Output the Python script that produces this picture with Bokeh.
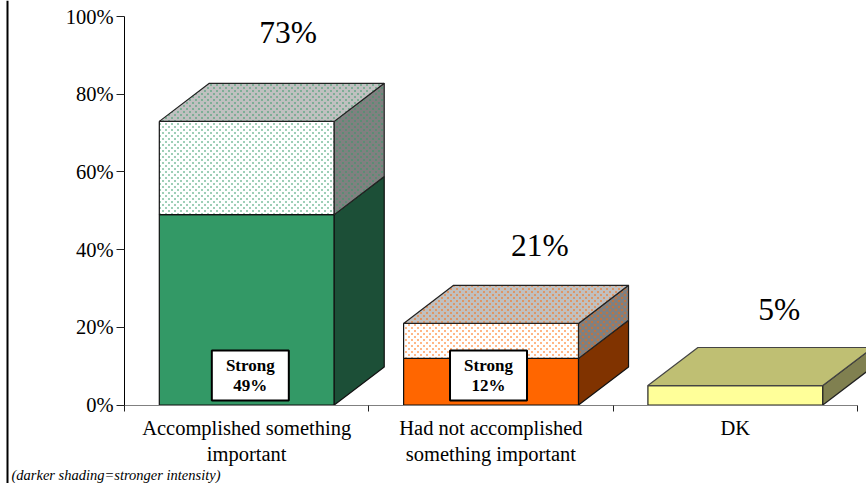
import base64, struct, zlib
from bokeh.embed import file_html
from bokeh.resources import INLINE
from bokeh.plotting import figure
from bokeh.models import FixedTicker, Range1d, Span, ImageURLTexture
from bokeh.core.properties import value

categories = ["Accomplished something\nimportant", "Had not accomplished\nsomething important", "DK"]
strong = [49, 12, 0]
total = [73, 21, 5]
total_labels = ["73%", "21%", "5%"]
strong_labels = ["Strong\n49%", "Strong\n12%", ""]
y_ticks = [0, 20, 40, 60, 80, 100]
footnote = "(darker shading=stronger intensity)"

front_solid = ["#339966", "#FF6600", "#FFFF99"]
side_solid = ["#1C4F37", "#803300", "#808050"]
dots = [(51, 153, 102), (255, 102, 0), (255, 255, 153)]

UNIT = 244.3     # px per category
PCT = 3.885      # px per percentage point
X0, Y0 = 124, 404.5
BAR_L, BAR_W = 0.1425, 0.716
DX, DY = 50 / UNIT, 9.8
FONT = "Liberation Serif"
x_of = lambda px: (px - X0) / UNIT
y_of = lambda py: (Y0 - py) / PCT


def tile_url(rgb, size=6):
    rows = b""
    for yy in range(size):
        rows += b"\x00"
        for xx in range(size):
            on = (xx in (0, 1) and yy in (0, 1)) or (xx in (3, 4) and yy in (3, 4))
            rows += bytes(rgb) + (b"\x78" if on else b"\x00")
    def chunk(tag, data):
        return struct.pack(">I", len(data)) + tag + data + struct.pack(">I", zlib.crc32(tag + data))
    png = b"\x89PNG\r\n\x1a\n" + chunk(b"IHDR", struct.pack(">IIBBBBB", size, size, 8, 6, 0, 0, 0)) \
        + chunk(b"IDAT", zlib.compress(rows)) + chunk(b"IEND", b"")
    return "data:image/png;base64," + base64.b64encode(png).decode()


p = figure(width=866, height=483, output_backend="svg", toolbar_location=None,
           x_range=Range1d(x_of(0), x_of(866)), y_range=Range1d(y_of(483), y_of(0)),
           min_border=0, x_axis_type="linear", outline_line_color=None)
p.grid.visible = False


def hatch(rgb):
    return dict(hatch_pattern="stag", hatch_extra={"stag": ImageURLTexture(url=tile_url(rgb))},
                hatch_scale=6)


for i in range(3):
    l = i + BAR_L
    r = l + BAR_W
    s, t = strong[i], total[i]
    if s > 0:
        p.patch([l, r, r, l], [0, 0, s, s], fill_color=front_solid[i], line_color="#111111", line_width=1.2)
        p.patch([r, r + DX, r + DX, r], [0, DY, s + DY, s], fill_color=side_solid[i], line_color="#111111", line_width=1.2)
        p.patch([l, r, r, l], [s, s, t, t], fill_color="white", line_color="#111111", line_width=1.2, **hatch(dots[i]))
        p.patch([r, r + DX, r + DX, r], [s, s + DY, t + DY, t], fill_color="#808080", line_color="#222222", line_width=1.2, **hatch(dots[i]))
        p.patch([l, r, r + DX, l + DX], [t, t, t + DY, t + DY], fill_color="#C0C0C0", line_color="#222222", line_width=1.2, **hatch(dots[i]))
    else:
        p.patch([l, r, r, l], [0, 0, t, t], fill_color=front_solid[i], line_color="#222222", line_width=1.2)
        p.patch([r, r + DX, r + DX, r], [0, DY, t + DY, t], fill_color=side_solid[i], line_color="#222222", line_width=1.2)
        p.patch([l, r, r + DX, l + DX], [t, t, t + DY, t + DY], fill_color="#BFBF73", line_color="#444444", line_width=1.2)

xc = [0.67, 1.70, 2.68]
yt = [t + o for t, o in zip(total, [22.9, 20.0, 19.6])]
p.text(xc, yt, text=total_labels, text_font=value(FONT), text_font_size="31.5px",
       text_align="center", text_baseline="middle", text_color="#000000")

bx = [0.515, 1.49]
p.rect(bx, [7.6, 7.6], width=77, height=50, width_units="screen", height_units="screen",
       fill_color="white", line_color="#000000", line_width=2)
p.text(bx, [7.6, 7.6], text=strong_labels[:2], text_font=value(FONT), text_font_size="17px",
       text_font_style="bold", text_align="center", text_baseline="middle", text_color="#000000",
       text_line_height=1.1)

xa = p.xaxis[0]
xa.fixed_location = 0
xa.ticker = FixedTicker(ticks=[0.5, 1.5, 2.5], minor_ticks=[0, 1, 2, 3])
xa.major_label_overrides = {0.5: categories[0], 1.5: categories[1], 2.5: categories[2]}
xa.major_tick_line_color = None
xa.minor_tick_line_color = "#222222"
xa.minor_tick_in = 0
xa.minor_tick_out = 6
xa.axis_line_color = "#808080"
xa.axis_line_width = 1
xa.bounds = (0, 3)
xa.major_label_text_font = FONT
xa.major_label_text_font_size = "20.5px"
xa.major_label_text_color = "#000000"
xa.major_label_standoff = 6

ya = p.yaxis[0]
ya.fixed_location = 0
ya.ticker = FixedTicker(ticks=y_ticks)
ya.major_label_overrides = {v: f"{v}%" for v in y_ticks}
ya.axis_line_color = "#000000"
ya.major_tick_line_color = "#222222"
ya.major_tick_in = 0
ya.major_tick_out = 8
ya.minor_tick_line_color = None
ya.bounds = (0, 100)
ya.major_label_text_font = FONT
ya.major_label_text_font_size = "20.5px"
ya.major_label_text_color = "#000000"
ya.major_label_standoff = 3

p.add_layout(Span(location=x_of(7), dimension="height", line_color="#000000", line_width=2))
p.text([x_of(11)], [y_of(474.5)], text=[footnote], text_font=value(FONT), text_font_size="14.5px",
       text_font_style="italic", text_color="#000000", text_baseline="middle", text_align="left")

open("out.html", "w").write(file_html(p, INLINE))
